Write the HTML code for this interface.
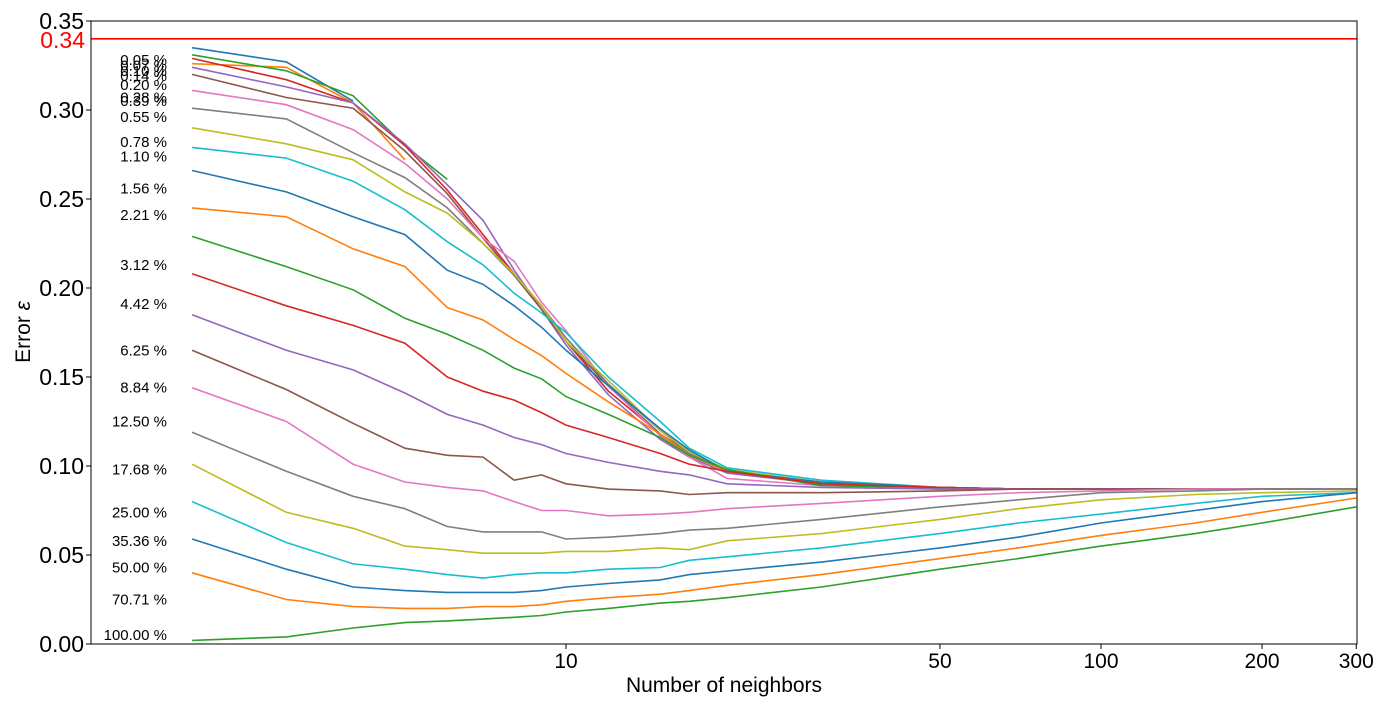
<!DOCTYPE html>
<html><head><meta charset="utf-8"><style>
html,body{margin:0;padding:0;background:#fff;}
svg{display:block;font-family:"Liberation Sans","DejaVu Sans",sans-serif;}
</style></head><body>
<svg id="chart" width="1389" height="710"></svg>
<script>
const kValues=[2,3,4,5,6,7,8,9,10,12,15,17,20,30,50,70,100,150,200,300];
const seriesLabels=["0.05 %","0.07 %","0.10 %","0.14 %","0.20 %","0.28 %","0.39 %","0.55 %","0.78 %","1.10 %","1.56 %","2.21 %","3.12 %","4.42 %","6.25 %","8.84 %","12.50 %","17.68 %","25.00 %","35.36 %","50.00 %","70.71 %","100.00 %"];
const labelVals=[0.328,0.325,0.322,0.319,0.314,0.307,0.305,0.296,0.282,0.274,0.256,0.241,0.213,0.191,0.165,0.144,0.125,0.098,0.074,0.058,0.043,0.025,0.005];
const s0=[0.335,0.327,0.305,null,null,null,null,null,null,null,null,null,null,null,null,null,null,null,null,null];
const s1=[0.326,0.324,0.304,0.272,null,null,null,null,null,null,null,null,null,null,null,null,null,null,null,null];
const s2=[0.331,0.322,0.308,0.280,0.261,null,null,null,null,null,null,null,null,null,null,null,null,null,null,null];
const s3=[0.329,0.317,0.304,0.280,0.255,0.230,0.208,0.190,0.170,0.142,0.118,0.107,0.097,0.090,0.088,0.087,0.087,0.087,0.087,0.087];
const s4=[0.324,0.313,0.304,0.281,0.258,0.238,0.210,0.188,0.168,0.140,0.115,0.105,0.096,0.090,0.087,0.087,0.087,0.087,0.087,0.087];
const s5=[0.320,0.307,0.301,0.277,0.253,0.228,0.207,0.188,0.170,0.145,0.118,0.107,0.097,0.091,0.088,0.087,0.087,0.087,0.087,0.087];
const s6=[0.311,0.303,0.289,0.270,0.250,0.228,0.215,0.192,0.176,0.145,0.117,0.105,0.093,0.089,0.087,0.087,0.087,0.087,0.087,0.087];
const s7=[0.301,0.295,0.276,0.262,0.245,0.225,0.207,0.190,0.172,0.146,0.120,0.107,0.097,0.090,0.088,0.087,0.087,0.087,0.087,0.087];
const s8=[0.290,0.281,0.272,0.254,0.242,0.225,0.208,0.190,0.170,0.148,0.120,0.108,0.098,0.091,0.088,0.087,0.087,0.087,0.087,0.087];
const s9=[0.279,0.273,0.260,0.244,0.226,0.213,0.197,0.186,0.175,0.150,0.125,0.110,0.099,0.092,0.088,0.087,0.087,0.087,0.087,0.087];
const s10=[0.266,0.254,0.240,0.230,0.210,0.202,0.190,0.178,0.165,0.145,0.121,0.109,0.097,0.091,0.088,0.087,0.087,0.087,0.087,0.087];
const s11=[0.245,0.240,0.222,0.212,0.189,0.182,0.171,0.162,0.152,0.136,0.118,0.106,0.097,0.090,0.088,0.087,0.087,0.087,0.087,0.087];
const s12=[0.229,0.212,0.199,0.183,0.174,0.165,0.155,0.149,0.139,0.129,0.116,0.106,0.098,0.089,0.088,0.087,0.087,0.087,0.087,0.087];
const s13=[0.208,0.190,0.179,0.169,0.150,0.142,0.137,0.130,0.123,0.116,0.107,0.101,0.097,0.090,0.088,0.087,0.087,0.087,0.087,0.087];
const s14=[0.185,0.165,0.154,0.141,0.129,0.123,0.116,0.112,0.107,0.102,0.097,0.095,0.090,0.088,0.087,0.087,0.087,0.087,0.087,0.087];
const s15=[0.165,0.143,0.124,0.110,0.106,0.105,0.092,0.095,0.090,0.087,0.086,0.084,0.085,0.085,0.086,0.087,0.087,0.087,0.087,0.087];
const s16=[0.144,0.125,0.101,0.091,0.088,0.086,0.080,0.075,0.075,0.072,0.073,0.074,0.076,0.079,0.083,0.085,0.086,0.087,0.087,0.087];
const s17=[0.119,0.097,0.083,0.076,0.066,0.063,0.063,0.063,0.059,0.060,0.062,0.064,0.065,0.070,0.077,0.081,0.085,0.086,0.087,0.087];
const s18=[0.101,0.074,0.065,0.055,0.053,0.051,0.051,0.051,0.052,0.052,0.054,0.053,0.058,0.062,0.070,0.076,0.081,0.084,0.085,0.086];
const s19=[0.080,0.057,0.045,0.042,0.039,0.037,0.039,0.040,0.040,0.042,0.043,0.047,0.049,0.054,0.062,0.068,0.073,0.079,0.083,0.085];
const s20=[0.059,0.042,0.032,0.030,0.029,0.029,0.029,0.030,0.032,0.034,0.036,0.039,0.041,0.046,0.054,0.060,0.068,0.075,0.080,0.085];
const s21=[0.040,0.025,0.021,0.020,0.020,0.021,0.021,0.022,0.024,0.026,0.028,0.030,0.033,0.039,0.048,0.054,0.061,0.068,0.074,0.082];
const s22=[0.002,0.004,0.009,0.012,0.013,0.014,0.015,0.016,0.018,0.020,0.023,0.024,0.026,0.032,0.042,0.048,0.055,0.062,0.068,0.077];
const allSeries=[s0,s1,s2,s3,s4,s5,s6,s7,s8,s9,s10,s11,s12,s13,s14,s15,s16,s17,s18,s19,s20,s21,s22];
const yTicks=[0,0.05,0.10,0.15,0.20,0.25,0.30,0.35];
const xTicks=[10,50,100,200,300];
const threshold=0.34;

const NS="http://www.w3.org/2000/svg";
const svg=document.getElementById('chart');
const L=91,R=1357,T=21,B=644;
const colors=["#1f77b4","#ff7f0e","#2ca02c","#d62728","#9467bd","#8c564b","#e377c2","#7f7f7f","#bcbd22","#17becf"];
function xs(k){return 31+535*Math.log10(k);}
function ys(v){return B-(v/0.35)*(B-T);}
function mk(tag,attrs,parent){const e=document.createElementNS(NS,tag);for(const a in attrs)e.setAttribute(a,attrs[a]);(parent||svg).appendChild(e);return e;}

const g=mk('g',{});


allSeries.forEach((s,i)=>{
  let d='';let started=false;
  s.forEach((v,j)=>{if(v==null)return;d+=(started?'L':'M')+xs(kValues[j]).toFixed(1)+','+ys(v).toFixed(1);started=true;});
  const p=mk('path',{d:d,fill:'none',stroke:colors[i%10],'stroke-width':1.6},g);
  
  
  const t=mk('text',{x:167,y:ys(labelVals[i])+5,'text-anchor':'end','font-size':15,fill:'#000'},g);
  t.textContent=seriesLabels[i];
  
  
});
const th=mk('line',{x1:L,x2:R,y1:ys(threshold),y2:ys(threshold),stroke:'#ff0000','stroke-width':1.6});


const tht=mk('text',{x:85,y:ys(threshold)+9,'text-anchor':'end','font-size':23,fill:'#ff0000'});
tht.textContent='0.34';



const frame=mk('rect',{x:L,y:T,width:R-L,height:B-T,fill:'none',stroke:'#000','stroke-width':1});



yTicks.forEach(v=>{
  const y=ys(v);
  const tk=mk('line',{x1:L-5,x2:L,y1:y,y2:y,stroke:'#000'});
  
  
  const t=mk('text',{x:L-7,y:y+8,'text-anchor':'end','font-size':23});
  t.textContent=v.toFixed(2);
  
  
});
xTicks.forEach(k=>{
  const x=xs(k);
  const tk=mk('line',{x1:x,x2:x,y1:B,y2:B+5,stroke:'#000'});
  
  
  const t=mk('text',{x:x,y:B+24,'text-anchor':'middle','font-size':21});
  t.textContent=k;
  
  
});
const xl=mk('text',{x:724,y:692,'text-anchor':'middle','font-size':21});
xl.textContent='Number of neighbors';


const yl=mk('text',{x:0,y:0,'text-anchor':'middle','font-size':21,transform:'translate(30,332) rotate(-90)'});
yl.innerHTML='Error <tspan font-style="italic">ε</tspan>';


</script>
</body></html>
